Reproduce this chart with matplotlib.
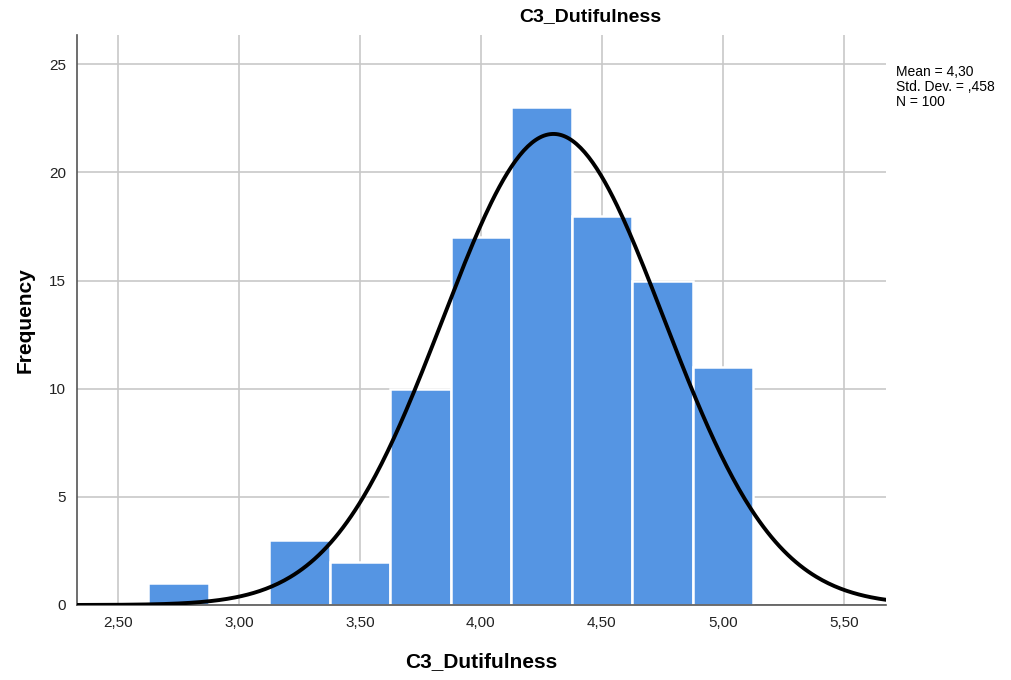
import numpy as np
import matplotlib.pyplot as plt

plt.rcParams['font.family'] = ['Liberation Sans', 'DejaVu Sans']

# histogram data
bin_centers = [2.75, 3.00, 3.25, 3.50, 3.75, 4.00, 4.25, 4.50, 4.75, 5.00]
counts = [1, 0, 3, 2, 10, 17, 23, 18, 15, 11]
mean_val = 4.30
std_val = 0.458
n_total = 100
bin_width = 0.25

xticks = [2.5, 3.0, 3.5, 4.0, 4.5, 5.0, 5.5]
xtick_labels = ['2,50', '3,00', '3,50', '4,00', '4,50', '5,00', '5,50']
yticks = [0, 5, 10, 15, 20, 25]

fig = plt.figure(figsize=(10.11, 6.8), dpi=100)
ax = fig.add_axes([77/1011, 75/680, (886-77)/1011, (605-35)/680])

ax.set_axisbelow(True)
ax.grid(True, color='#c8c8c8', linewidth=1.2)
ax.bar(bin_centers, counts, width=bin_width, color='#5595e3',
       edgecolor='white', linewidth=1.8, zorder=2)

# fitted normal curve scaled to counts
xs = np.linspace(2.33, 5.68, 400)
ys = n_total * bin_width / (std_val * np.sqrt(2*np.pi)) * np.exp(-0.5*((xs-mean_val)/std_val)**2)
ax.plot(xs, ys, color='black', linewidth=2.8, zorder=3)

ax.set_xlim(2.33, 5.675)
ax.set_ylim(0, 26.35)
ax.set_xticks(xticks)
ax.set_xticklabels(xtick_labels)
ax.set_yticks(yticks)
ax.tick_params(length=0, labelsize=11, colors='#222222', pad=8)
for s in ['top', 'right']:
    ax.spines[s].set_visible(False)
ax.spines['left'].set_color('#555555')
ax.spines['bottom'].set_color('#555555')
ax.spines['left'].set_linewidth(1.2)
ax.spines['bottom'].set_linewidth(1.2)

ax.set_xlabel('C3_Dutifulness', fontsize=15, fontweight='bold', labelpad=16)
ax.set_ylabel('Frequency', fontsize=15, fontweight='bold', labelpad=10)
fig.text(590/1011, 1 - 17/680, 'C3_Dutifulness', fontsize=14, fontweight='bold',
         ha='center', va='center')
fig.text(896/1011, 1 - 65/680,
         'Mean = 4,30\nStd. Dev. = ,458\nN = 100',
         fontsize=10, ha='left', va='top', linespacing=1.1)

fig.savefig('out.png', dpi=100)
